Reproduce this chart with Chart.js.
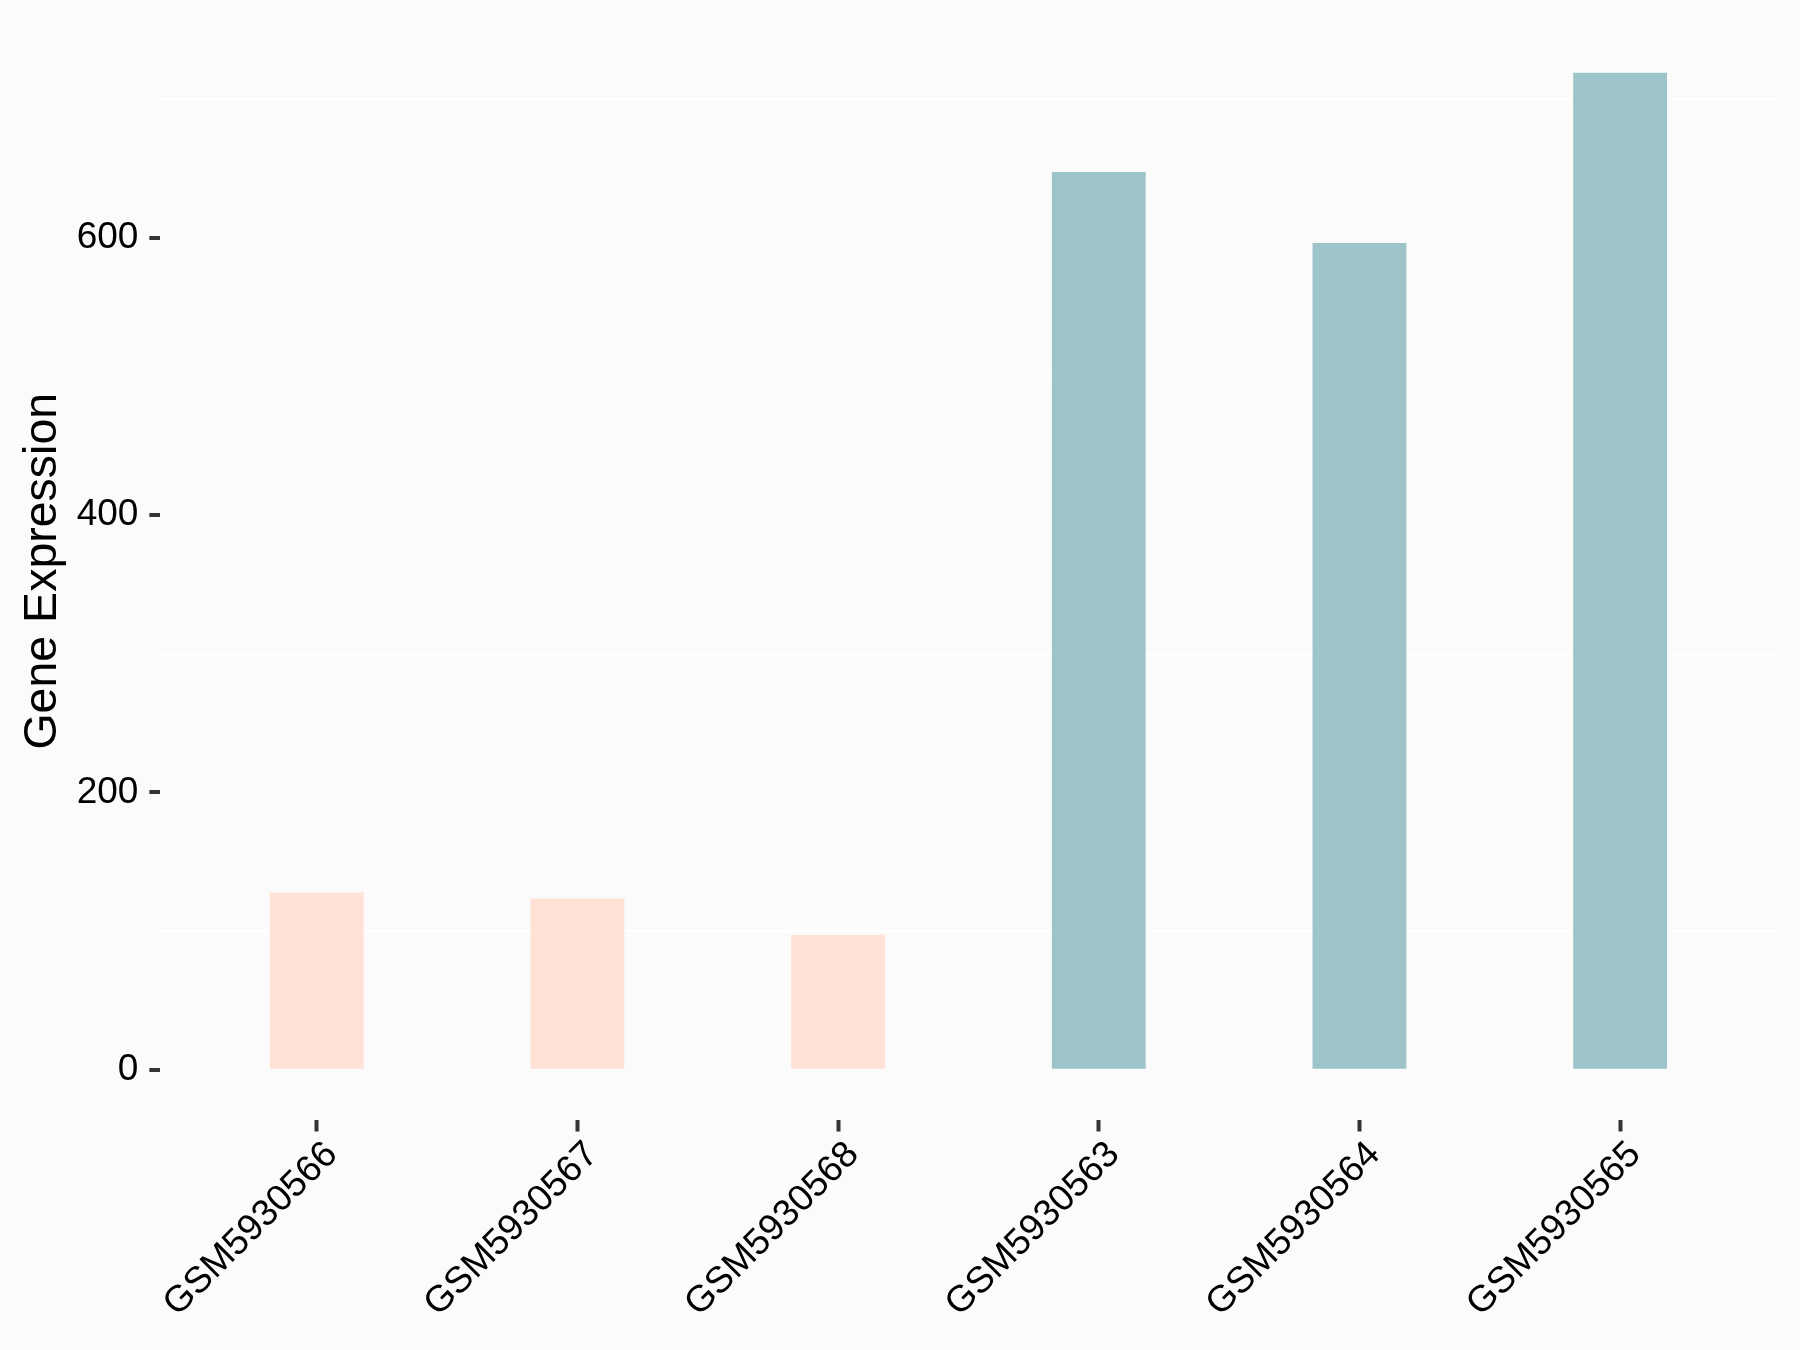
<!DOCTYPE html>
<html>
<head>
<meta charset="utf-8">
<script src="https://cdn.jsdelivr.net/npm/chart.js@4.4.1/dist/chart.umd.min.js"></script>
<style>
  html, body { margin: 0; padding: 0; background: #FBFBFB; }
  #wrap { width: 1800px; height: 1350px; }
  canvas { display: block; background: #FBFBFB; }
</style>
</head>
<body>
<div id="wrap"><canvas id="c" width="1800" height="1350"></canvas></div>
<script>
// ---- data ----
const categories = ["GSM5930566", "GSM5930567", "GSM5930568", "GSM5930563", "GSM5930564", "GSM5930565"];
const values = [127.7, 123.5, 97.3, 647.4, 596.2, 718.9];
const groups = ["ctrl", "ctrl", "ctrl", "treat", "treat", "treat"];
const groupColors = { ctrl: "#FFE1D6", treat: "#9DC4C8" };
const yLabelTicks = [0, 200, 400, 600];
const yGridTicks = [100, 300, 500, 700];
const yTitle = "Gene Expression";

const FAMILY = "'Liberation Sans', Arial, Helvetica, sans-serif";
const yMax = 718.9 * 1.05;
const yMin = -718.9 * 0.05;

const points = values.map((v, i) => ({ x: i, y: v }));
const colors = groups.map(g => groupColors[g]);
const allYTicks = yLabelTicks.concat(yGridTicks).sort((a, b) => a - b);

new Chart(document.getElementById('c'), {
  type: 'bar',
  data: {
    datasets: [{
      data: points,
      backgroundColor: colors,
      borderWidth: 0,
      barPercentage: 0.36,
      categoryPercentage: 1
    }]
  },
  options: {
    responsive: false,
    devicePixelRatio: 1,
    animation: false,
    layout: { padding: { top: 22.9, right: 23.5, left: 0, bottom: 0 } },
    plugins: { legend: { display: false }, tooltip: { enabled: false } },
    scales: {
      x: {
        type: 'linear',
        min: -0.6,
        max: 5.6,
        offset: false,
        afterBuildTicks: s => { s.ticks = categories.map((c, i) => ({ value: i })); },
        afterFit: s => { s.height = 230.5; s.paddingLeft = 0; s.paddingRight = 0; },
        ticks: {
          callback: v => categories[v],
          autoSkip: false,
          minRotation: 45,
          maxRotation: 45,
          padding: 1.5,
          labelOffset: 15,
          color: '#000',
          font: { family: FAMILY, size: 37 }
        },
        grid: { offset: false, drawOnChartArea: false, tickLength: 12, tickWidth: 4, tickColor: '#333333' },
        border: { display: false }
      },
      y: {
        type: 'linear',
        min: yMin,
        max: yMax,
        afterBuildTicks: s => { s.ticks = allYTicks.map(v => ({ value: v })); },
        afterFit: s => { s.width = 160.4; s.paddingTop = 0; s.paddingBottom = 0; },
        ticks: {
          callback: v => yLabelTicks.includes(v) ? String(v) : '',
          padding: 11,
          color: '#000',
          font: { family: FAMILY, size: 37 }
        },
        grid: {
          color: ctx => (ctx.tick && yGridTicks.includes(ctx.tick.value)) ? '#FFFFFF' : 'rgba(0,0,0,0)',
          lineWidth: 2,
          tickColor: ctx => (ctx.tick && yLabelTicks.includes(ctx.tick.value)) ? '#333333' : 'rgba(0,0,0,0)',
          tickWidth: 4,
          tickLength: 11
        },
        border: { display: false },
        title: {
          display: true,
          text: yTitle,
          color: '#000',
          font: { family: FAMILY, size: 46.5, lineHeight: 1 },
          padding: { top: 19.5, bottom: 0 }
        }
      }
    }
  }
});
</script>
</body>
</html>
